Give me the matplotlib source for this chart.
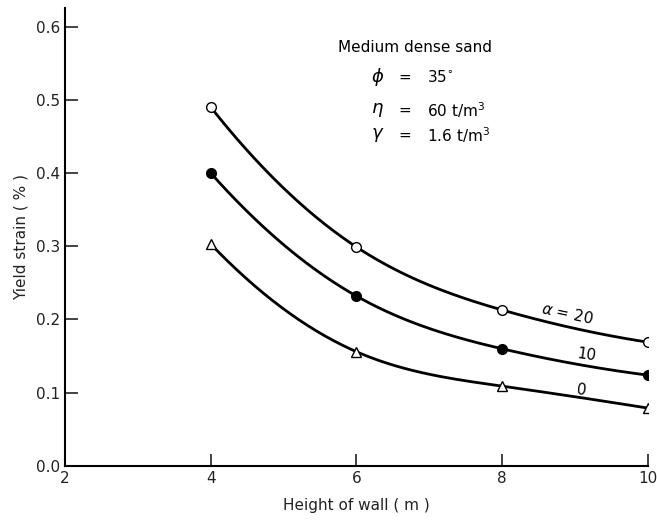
import numpy as np
import matplotlib
matplotlib.use("Agg")
import matplotlib.pyplot as plt

# wall height (m) and yield strain (%) for each alpha
heights = [4, 6, 8, 10]
strain_a20 = [0.490, 0.299, 0.213, 0.169]
strain_a10 = [0.400, 0.232, 0.160, 0.124]
strain_a0 = [0.303, 0.156, 0.109, 0.079]

plt.rcParams['font.family'] = ['DejaVu Sans']

fig = plt.figure(figsize=(6.57, 5.2), dpi=100)
ax = fig.add_axes([0.099, 0.104, 0.887, 0.88])


def smooth(x, y, n=200):
    # cubic spline with parabolic run-out ends, for drawing the curve only
    x = np.asarray(x, float)
    y = np.asarray(y, float)
    k = len(x)
    h = np.diff(x)
    A = np.zeros((k, k))
    b = np.zeros(k)
    A[0, 0], A[0, 1] = 1.0, -1.0
    A[-1, -1], A[-1, -2] = 1.0, -1.0
    for i in range(1, k - 1):
        A[i, i - 1] = h[i - 1]
        A[i, i] = 2 * (h[i - 1] + h[i])
        A[i, i + 1] = h[i]
        b[i] = 6 * ((y[i + 1] - y[i]) / h[i] - (y[i] - y[i - 1]) / h[i - 1])
    M = np.linalg.solve(A, b)
    xs = np.linspace(x[0], x[-1], n)
    idx = np.clip(np.searchsorted(x, xs) - 1, 0, k - 2)
    hi = h[idx]
    a = x[idx + 1] - xs
    c = xs - x[idx]
    ys = (M[idx] * a**3 / (6 * hi) + M[idx + 1] * c**3 / (6 * hi)
          + (y[idx] / hi - M[idx] * hi / 6) * a
          + (y[idx + 1] / hi - M[idx + 1] * hi / 6) * c)
    return xs, ys


series = [
    (strain_a20, dict(marker='o', mfc='white', mec='black', ms=7)),
    (strain_a10, dict(marker='o', mfc='black', mec='black', ms=7)),
    (strain_a0, dict(marker='^', mfc='white', mec='black', ms=7.5)),
]
for vals, mk in series:
    xs, ys = smooth(heights, vals)
    ax.plot(xs, ys, color='black', lw=2.0, zorder=2)
    ax.plot(heights, vals, ls='none', mew=1.0, zorder=3, **mk)

ax.set_xlim(2, 10)
ax.set_ylim(0, 0.625)
ax.set_xticks([2, 4, 6, 8, 10])
ax.set_yticks([0.0, 0.1, 0.2, 0.3, 0.4, 0.5, 0.6])
ax.set_yticklabels(['0.0', '0.1', '0.2', '0.3', '0.4', '0.5', '0.6'])
ax.tick_params(direction='in', length=9, width=1.2, labelsize=11, colors='#222222')
ax.tick_params(axis='x', pad=4)
ax.spines['top'].set_visible(False)
ax.spines['right'].set_visible(False)
for s in ('left', 'bottom'):
    ax.spines[s].set_linewidth(1.5)

ax.set_xlabel('Height of wall ( m )', fontsize=11, color='#222222', labelpad=8)
ax.set_ylabel('Yield strain ( % )', fontsize=11, color='#222222', labelpad=5)

# soil properties
ax.text(6.80, 0.571, 'Medium dense sand', fontsize=11, ha='center', va='center')
rows = [(r'$\phi$', r'35$^{\circ}$', 0.531),
        (r'$\eta$', r'60 t/m$^3$', 0.486),
        (r'$\gamma$', r'1.6 t/m$^3$', 0.452)]
for sym, val, yy in rows:
    ax.text(6.29, yy, sym, fontsize=13, ha='center', va='center')
    ax.text(6.66, yy, '=', fontsize=11, ha='center', va='center')
    ax.text(6.97, yy, val, fontsize=11, ha='left', va='center')

# curve labels
ax.text(8.9, 0.208, r'$\alpha$ = 20', fontsize=11, ha='center', va='center', rotation=-12)
ax.text(9.16, 0.152, '10', fontsize=11, ha='center', va='center', rotation=-8)
ax.text(9.09, 0.104, '0', fontsize=11, ha='center', va='center', rotation=-8)

fig.savefig('out.png', dpi=100)
